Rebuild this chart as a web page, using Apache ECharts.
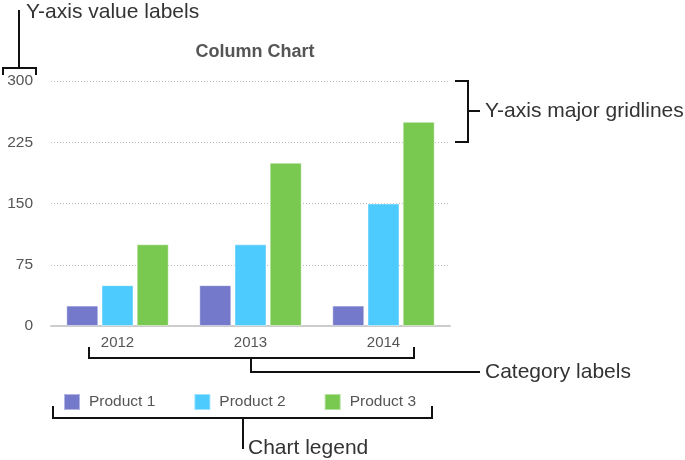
<!DOCTYPE html>
<html>
<head>
<meta charset="utf-8">
<script src="https://cdn.jsdelivr.net/npm/echarts@6/dist/echarts.min.js"></script>
<style>
  html, body { margin: 0; padding: 0; background: #fff; }
  #chart { width: 685px; height: 460px; }
</style>
</head>
<body>
<div id="chart"></div>
<script>
var years = ['2012', '2013', '2014']
var product1 = [25, 50, 25]
var product2 = [50, 100, 150]
var product3 = [100, 200, 250]
var productNames = ['Product 1', 'Product 2', 'Product 3']
var colors = ['#7479cb', '#4dcbfe', '#79c850']
var yTicks = [0, 75, 150, 225, 300]

var font = 'Liberation Sans, Arial, sans-serif'
var ink = '#111'

// callout brackets + captions around the chart
function bracketLine (points) {
  return {
    type: 'polyline',
    shape: { points: points },
    style: { stroke: ink, lineWidth: 2, fill: null },
    silent: true
  }
}
function caption (x, y, text) {
  return {
    type: 'text',
    x: x,
    y: y,
    style: { text: text, fill: '#333', font: '21px ' + font, verticalAlign: 'middle' },
    silent: true
  }
}

var annotations = [
  bracketLine([[3, 75], [3, 68], [36, 68], [36, 75]]),
  bracketLine([[19, 68], [19, 10]]),
  caption(26, 12, 'Y-axis value labels'),

  bracketLine([[455, 81], [468, 81], [468, 142], [455, 142]]),
  bracketLine([[468, 111], [480, 111]]),
  caption(485, 111, 'Y-axis major gridlines'),

  bracketLine([[89, 347], [89, 358], [414, 358], [414, 347]]),
  bracketLine([[251, 358], [251, 372], [480, 372]]),
  caption(485, 372, 'Category labels'),

  bracketLine([[53, 406], [53, 418], [432, 418], [432, 406]]),
  bracketLine([[243, 418], [243, 449]]),
  caption(248, 448, 'Chart legend')
]

function barSeries (name, values, color) {
  return {
    name: name,
    type: 'bar',
    data: values,
    barWidth: 32,
    barGap: '10%',
    itemStyle: {
      color: color,
      borderColor: 'rgba(255,255,255,0.45)',
      borderWidth: 1
    }
  }
}

var chart = echarts.init(document.getElementById('chart'))
chart.setOption({
  animation: false,
  color: colors,
  textStyle: { fontFamily: font },
  title: {
    text: 'Column Chart',
    left: 250,
    textAlign: 'center',
    top: 38,
    textStyle: { fontSize: 18, fontWeight: 'bold', color: '#555', fontFamily: font }
  },
  legend: {
    left: 63,
    top: 393,
    padding: 0,
    icon: 'rect',
    itemWidth: 16,
    itemHeight: 16,
    itemGap: 38,
    data: productNames,
    textStyle: { fontSize: 15.5, color: '#555', padding: [0, 0, 0, 4] }
  },
  grid: { left: 51, right: 235, top: 81, bottom: 134 },
  xAxis: {
    type: 'category',
    data: years,
    axisTick: { show: false },
    axisLine: { lineStyle: { color: '#ccc', width: 2 } },
    axisLabel: { color: '#555', fontSize: 15, margin: 9 }
  },
  yAxis: {
    type: 'value',
    min: yTicks[0],
    max: yTicks[yTicks.length - 1],
    interval: yTicks[1] - yTicks[0],
    axisLine: { show: false },
    axisTick: { show: false },
    axisLabel: { color: '#555', fontSize: 15.5, margin: 18, padding: [5, 0, 0, 0] },
    splitLine: { lineStyle: { color: '#bbb', type: [1, 2], width: 1 } }
  },
  series: [
    barSeries(productNames[0], product1, colors[0]),
    barSeries(productNames[1], product2, colors[1]),
    barSeries(productNames[2], product3, colors[2])
  ],
  graphic: annotations
})
</script>
</body>
</html>
